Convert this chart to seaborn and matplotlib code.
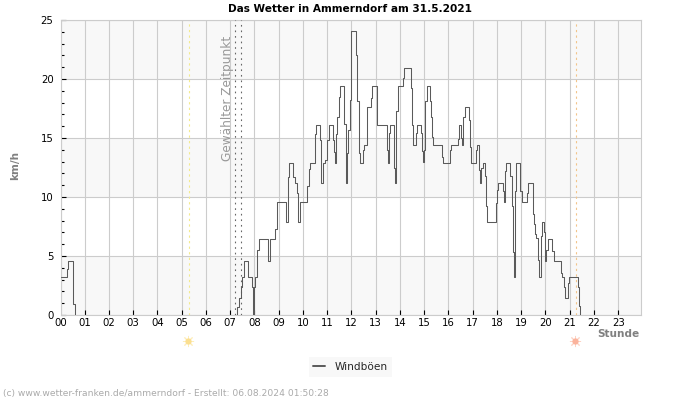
import numpy as np
import pandas as pd
import seaborn as sns
import matplotlib.pyplot as plt
from matplotlib.ticker import MultipleLocator

# wind gusts (hour of day, km/h)
early_hours = [0.0, 0.26, 0.32, 0.51, 0.53, 0.59]
early_gusts = [3.2, 3.9, 4.6, 3.5, 0.9, 0.0]

day_hours = [7.24, 7.29, 7.36, 7.43, 7.48, 7.57, 7.68, 7.73, 7.84, 7.88, 7.92, 7.96, 8.01, 8.06, 8.12, 8.17,
             8.53, 8.56, 8.64, 8.80, 8.85, 8.91, 9.26, 9.30, 9.37, 9.41, 9.56, 9.60, 9.68, 9.75, 9.81, 9.88,
             10.11, 10.18, 10.23, 10.27, 10.44, 10.50, 10.54, 10.69, 10.71, 10.76, 10.82, 10.92, 11.00, 11.09,
             11.18, 11.22, 11.26, 11.33, 11.37, 11.42, 11.48, 11.53, 11.66, 11.69, 11.76, 11.80, 11.87, 11.94,
             11.99, 12.16, 12.18, 12.24, 12.30, 12.36, 12.42, 12.47, 12.53, 12.60, 12.65, 12.72, 12.79, 12.85,
             12.97, 13.04, 13.41, 13.45, 13.49, 13.53, 13.57, 13.72, 13.77, 13.81, 13.85, 13.90, 14.08, 14.14,
             14.18, 14.43, 14.45, 14.49, 14.54, 14.60, 14.65, 14.69, 14.82, 14.88, 14.92, 14.95, 15.00, 15.04,
             15.10, 15.18, 15.24, 15.29, 15.33, 15.37, 15.68, 15.72, 15.76, 16.01, 16.05, 16.10, 16.34, 16.38,
             16.42, 16.49, 16.53, 16.57, 16.61, 16.67, 16.82, 16.86, 16.90, 16.94, 17.07, 17.12, 17.18, 17.23,
             17.27, 17.31, 17.35, 17.41, 17.48, 17.52, 17.55, 17.59, 17.89, 17.95, 17.99, 18.03, 18.19, 18.23,
             18.27, 18.32, 18.37, 18.51, 18.55, 18.60, 18.65, 18.69, 18.73, 18.77, 18.92, 18.96, 19.02, 19.17,
             19.22, 19.26, 19.43, 19.47, 19.53, 19.57, 19.61, 19.66, 19.69, 19.75, 19.80, 19.86, 19.91, 19.95,
             19.99, 20.03, 20.09, 20.24, 20.28, 20.34, 20.58, 20.63, 20.69, 20.75, 20.80, 20.89, 20.94, 20.99,
             21.31, 21.35, 21.38, 21.42]
day_gusts = [0.0, 0.7, 1.4, 2.4, 3.2, 4.6, 4.6, 3.2, 3.2, 2.4, 0.0, 2.4, 3.2, 3.2, 5.5, 6.4,
             6.4, 4.6, 6.4, 6.4, 7.3, 9.6, 9.6, 7.9, 11.7, 12.9, 12.9, 11.7, 11.2, 10.3, 7.9, 9.6,
             9.6, 10.9, 12.4, 12.9, 12.9, 15.3, 16.1, 16.1, 14.8, 11.2, 12.9, 13.1, 14.8, 16.1,
             16.1, 14.8, 13.8, 12.9, 15.3, 16.8, 18.5, 19.4, 19.4, 16.2, 11.2, 13.7, 15.7, 18.2,
             24.1, 24.1, 22.0, 18.1, 13.7, 12.9, 12.9, 14.0, 14.4, 14.4, 17.6, 17.6, 18.4, 19.4,
             19.4, 16.1, 16.1, 14.0, 12.9, 15.4, 16.1, 16.1, 12.5, 11.2, 17.3, 19.4, 19.4, 20.1,
             20.9, 20.9, 19.2, 16.1, 14.4, 14.4, 15.4, 16.1, 16.1, 15.4, 13.9, 13.0, 14.0, 18.1,
             19.4, 19.4, 18.1, 16.8, 15.1, 14.4, 14.4, 13.4, 12.9, 12.9, 14.0, 14.4, 14.4, 14.9,
             16.1, 16.1, 15.0, 14.4, 16.8, 17.6, 17.6, 16.5, 14.2, 12.9, 12.9, 14.0, 14.4, 14.4,
             12.3, 11.2, 12.5, 12.9, 12.9, 11.8, 9.2, 7.9, 7.9, 9.5, 10.6, 11.2, 11.2, 10.5,
             9.6, 12.2, 12.9, 12.9, 11.8, 9.2, 5.3, 3.2, 10.5, 12.9, 12.9, 10.5, 9.6, 9.6,
             10.3, 11.2, 11.2, 8.6, 7.7, 6.9, 6.5, 6.5, 4.7, 3.2, 6.7, 7.9, 7.9, 7.0,
             4.6, 5.5, 6.4, 6.4, 5.4, 4.6, 4.6, 3.6, 3.2, 2.4, 1.4, 1.4, 2.7, 3.2,
             3.2, 2.4, 0.8, 0.0]

hour_labels = ["%02d" % h for h in range(24)]
selected_times = [7.2, 7.45]
sunrise = 5.31
sunset = 21.24

W, H = 700, 400
sns.set_style("white")
plt.rcParams['font.family'] = ['DejaVu Sans']

fig = plt.figure(figsize=(7, 4), dpi=100)
ax = fig.add_axes([60.5 / W, 1 - 315 / H, 580 / W, 295 / H])

early = pd.DataFrame({'hour': early_hours, 'gust': early_gusts})
day = pd.DataFrame({'hour': day_hours, 'gust': day_gusts})

# the two stretches have a gap between them, so two calls
line_kw = dict(x='hour', y='gust', color='#5a5a5a', linewidth=0.75, drawstyle='steps-post', ax=ax, zorder=4)
sns.lineplot(data=early, label='Windböen', **line_kw)
sns.lineplot(data=day, legend=False, **line_kw)

ax.set_xlim(0, 23.92)
ax.set_ylim(0, 25)

# alternating bands
for low in [0, 10, 20]:
    ax.axhspan(low, low + 5, color='#f8f8f8', lw=0, zorder=0)

ax.set_axisbelow(True)
ax.grid(True, color='#cccccc', linewidth=0.8, zorder=1)
for s in ax.spines.values():
    s.set_color('#cccccc')
    s.set_linewidth(0.8)

ax.set_xticks(range(24))
ax.set_xticklabels(hour_labels)
ax.yaxis.set_major_locator(MultipleLocator(5))
ax.yaxis.set_minor_locator(MultipleLocator(1))
ax.tick_params(axis='x', which='major', direction='in', length=3.6, width=0.8, color='black',
               labelsize=7.3, pad=2.5, labelcolor='black', bottom=True)
ax.tick_params(axis='y', which='major', direction='in', length=3.6, width=0.8, color='black',
               labelsize=7.3, pad=5, labelcolor='black', left=True)
ax.tick_params(axis='y', which='minor', direction='in', length=2.2, width=0.8, color='black', left=True)
ax.xaxis.get_major_ticks()[0].tick1line.set_visible(False)
ax.set_xlabel('')
ax.set_ylabel('')

# sunrise, sunset, selected time
ax.axvline(sunrise, color='#f3ea8c', linewidth=0.8, linestyle=(0, (2, 3)), zorder=2)
ax.axvline(sunset, color='#f2c48a', linewidth=0.8, linestyle=(0, (2, 3)), zorder=2)
for t in selected_times:
    ax.axvline(t, color='#666666', linewidth=0.8, linestyle=(0, (1.5, 3.5)), zorder=3)
ax.text(6.87, 23.65, 'Gewählter Zeitpunkt', rotation=90, ha='center', va='top', fontsize=8.7, color='#999999')

# sun symbols below the axis
trans = ax.get_xaxis_transform()
for t, col, ray in [(sunrise - 0.06, '#fbdf90', '#fdeebb'), (sunset - 0.02, '#fbb39c', '#fdd3c4')]:
    ax.plot([t], [-0.088], marker=(8, 2, 0), ms=8, mew=0.7, color=ray, transform=trans, clip_on=False)
    ax.plot([t], [-0.088], marker='o', ms=4.5, mew=0, color=col, transform=trans, clip_on=False)

fig.text(350 / W, 1 - 8.5 / H, 'Das Wetter in Ammerndorf am 31.5.2021', ha='center', va='center',
         fontsize=7.55, fontweight='bold', color='black')
fig.text(15.5 / W, 1 - 166 / H, 'km/h', rotation=90, ha='center', va='center', fontsize=7.5,
         fontweight='bold', color='#808080')
fig.text(639 / W, 1 - 334 / H, 'Stunde', ha='right', va='center', fontsize=7.6, fontweight='bold', color='#808080')
fig.text(3 / W, 1 - 393.5 / H, '(c) www.wetter-franken.de/ammerndorf - Erstellt: 06.08.2024 01:50:28',
         ha='left', va='center', fontsize=6.6, color='#aaaaaa')

leg = ax.legend(loc='center', bbox_to_anchor=(350.5 / W, 1 - 367 / H), bbox_transform=fig.transFigure,
                fontsize=7.6, frameon=True, facecolor='#f8f8f8', edgecolor='none', framealpha=1,
                fancybox=False, handlelength=1.1, handletextpad=0.9, borderpad=0.45, borderaxespad=0)
for lh in leg.get_lines():
    lh.set_drawstyle('default')
    lh.set_linewidth(1.4)

fig.savefig('out.png', dpi=100)
